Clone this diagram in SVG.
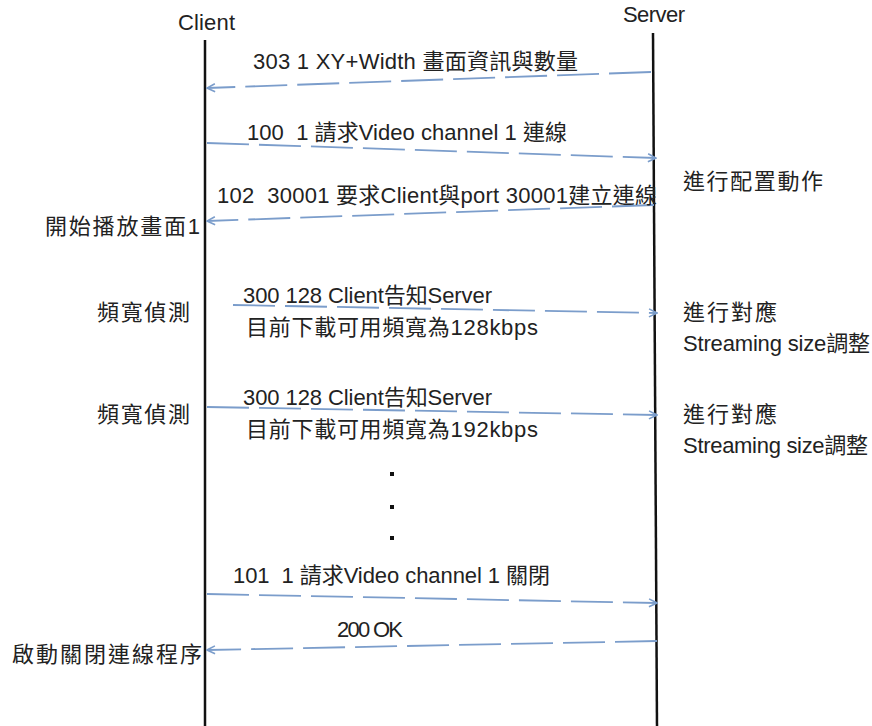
<svg xmlns="http://www.w3.org/2000/svg" width="872" height="726" viewBox="0 0 872 726">
<style>
text{font-family:"Liberation Sans","Noto Sans CJK TC",sans-serif;font-size:22px;fill:#222;white-space:pre}
.life{stroke:#111;stroke-width:2.5;fill:none}
.msg{stroke:#7b9dcb;stroke-width:1.8;fill:none;stroke-dasharray:42 10}
.dot{fill:#111}
</style>
<defs>
<marker id="arr" viewBox="0 0 10 10" refX="9" refY="5" markerWidth="10" markerHeight="10" markerUnits="userSpaceOnUse" orient="auto">
<path d="M1,1 L9,5 L1,9" fill="none" stroke="#7b9dcb" stroke-width="1.6"/>
</marker>
</defs>
<g id="client">
<text x="178" y="30" textLength="57">Client</text>
<line class="life" x1="205" y1="40" x2="205" y2="726"/>
</g>
<g id="server">
<text x="623" y="22" textLength="62">Server</text>
<line class="life" x1="653" y1="33" x2="657" y2="726"/>
</g>
<g id="connectors">
<line class="msg" x1="651" y1="72" x2="207" y2="88" marker-end="url(#arr)"/>
<line class="msg" x1="207" y1="143" x2="656" y2="158" marker-end="url(#arr)"/>
<line class="msg" x1="654" y1="205" x2="207" y2="221" marker-end="url(#arr)"/>
<line class="msg" x1="233" y1="305" x2="657" y2="313" marker-end="url(#arr)"/>
<line class="msg" x1="207" y1="407" x2="657" y2="415" marker-end="url(#arr)"/>
<line class="msg" x1="207" y1="594" x2="657" y2="603" marker-end="url(#arr)"/>
<line class="msg" x1="657" y1="641" x2="207" y2="650" marker-end="url(#arr)"/>
</g>
<g id="msg-labels">
<text x="253" y="69" textLength="325">303 1 XY+Width 畫面資訊與數量</text>
<text x="247" y="140" textLength="320">100  1 請求Video channel 1 連線</text>
<text x="217" y="203" textLength="440">102  30001 要求Client與port 30001建立連線</text>
<text x="243" y="303" textLength="249">300 128 Client告知Server</text>
<text x="246" y="335" textLength="292">目前下載可用頻寬為128kbps</text>
<text x="243" y="405" textLength="249">300 128 Client告知Server</text>
<text x="246" y="437" textLength="292">目前下載可用頻寬為192kbps</text>
<text x="233" y="583" textLength="317">101  1 請求Video channel 1 關閉</text>
<text x="337" y="637" textLength="66">200 OK</text>
</g>
<g id="dots">
<rect class="dot" x="390" y="472" width="4" height="4"/>
<rect class="dot" x="390" y="505" width="4" height="4"/>
<rect class="dot" x="390" y="536" width="4" height="4"/>
</g>
<g id="client-notes">
<text x="45" y="234" textLength="155">開始播放畫面1</text>
<text x="97" y="320" textLength="93">頻寬偵測</text>
<text x="97" y="422" textLength="93">頻寬偵測</text>
<text x="12" y="662" textLength="190">啟動關閉連線程序</text>
</g>
<g id="server-notes">
<text x="683" y="189" textLength="140">進行配置動作</text>
<text x="683" y="320" textLength="94">進行對應</text>
<text x="683" y="351" textLength="187">Streaming size調整</text>
<text x="683" y="422" textLength="94">進行對應</text>
<text x="683" y="453" textLength="185">Streaming size調整</text>
</g>
</svg>
